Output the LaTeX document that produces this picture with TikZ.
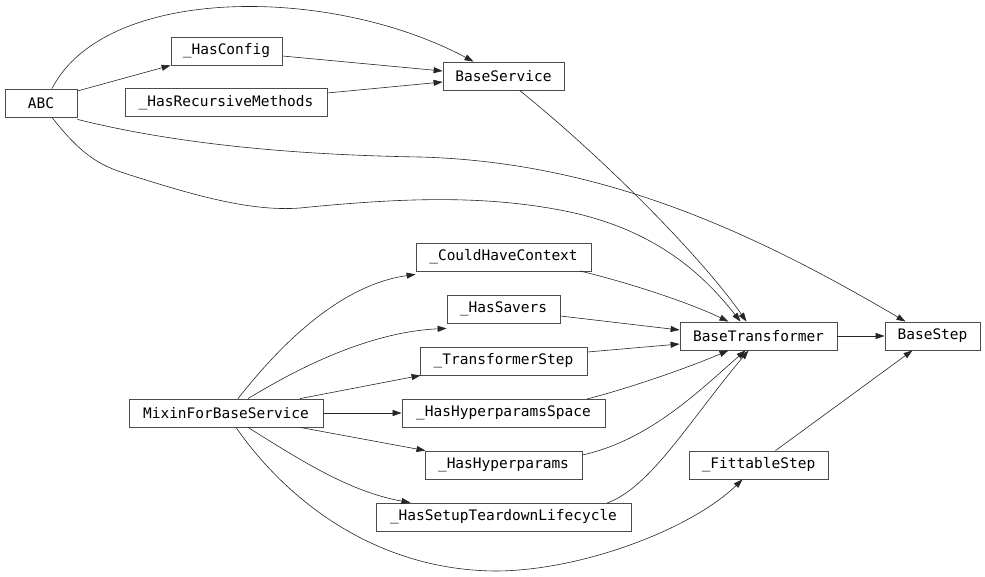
\documentclass[tikz,border=0pt]{standalone}
\usepackage{fontspec}
\setmonofont{DejaVu Sans Mono}
\usetikzlibrary{arrows.meta}
\tikzset{
  cls/.style={draw=black!70, line width=0.8pt, fill=white, rectangle, inner sep=0pt,
    minimum height=28pt, font=\ttfamily\fontsize{14.5}{16}\selectfont},
  edge/.style={draw=black!85, line width=0.6pt, -{Triangle[length=9pt,width=6pt]}}
}
\begin{document}
\begin{tikzpicture}[x=1pt,y=-1pt]
\useasboundingbox (0,0) rectangle (985,577);
\node[cls, minimum width=72pt]  (abc) at (41,103) {ABC};
\node[cls, minimum width=111pt] (hc)  at (226.5,51) {\_HasConfig};
\node[cls, minimum width=202pt] (hrm) at (226,102.5) {\_HasRecursiveMethods};
\node[cls, minimum width=121pt] (bs)  at (503.5,76) {BaseService};
\node[cls, minimum width=175pt] (chc) at (503.5,257) {\_CouldHaveContext};
\node[cls, minimum width=113pt] (hs)  at (503.5,309) {\_HasSavers};
\node[cls, minimum width=167pt] (ts)  at (503.5,361) {\_TransformerStep};
\node[cls, minimum width=194pt] (mix) at (226,413) {MixinForBaseService};
\node[cls, minimum width=203pt] (hhs) at (503.5,413) {\_HasHyperparamsSpace};
\node[cls, minimum width=157pt] (hh)  at (503.5,465) {\_HasHyperparams};
\node[cls, minimum width=255pt] (hst) at (503.5,517) {\_HasSetupTeardownLifecycle};
\node[cls, minimum width=157pt] (bt)  at (758.5,336) {BaseTransformer};
\node[cls, minimum width=139pt] (fs)  at (758.5,465) {\_FittableStep};
\node[cls, minimum width=95pt]  (bst) at (932.5,336) {BaseStep};

% ABC edges
\draw[edge] (abc.east |- 0,91) -- (hc.south west);
\draw[edge] ([xshift=11pt]abc.north) .. controls (105,-15) and (330,-15) .. ([xshift=-30pt]bs.north);
\draw[edge] ([yshift=-2pt]abc.south east) .. controls (180,145) and (300,155) .. (420,157)
  .. controls (600,162) and (750,230) .. ([xshift=-27pt]bst.north);
\draw[edge] ([xshift=11pt]abc.south) .. controls (85,160) and (105,167) .. (130,175)
  .. controls (190,194) and (250,212) .. (300,208)
  .. controls (400,198) and (480,195) .. (560,210)
  .. controls (650,227) and (700,270) .. ([xshift=-18pt]bt.north);
% BaseService parents
\draw[edge] (hc.east |- 0,56) -- (bs.west |- 0,71);
\draw[edge] (hrm.east |- 0,93) -- (bs.west |- 0,82);
% BaseService -> BaseTransformer
\draw[edge] ([xshift=16pt]bs.south) .. controls (600,155) and (700,255) .. ([xshift=-12pt]bt.north);
% into BaseTransformer
\draw[edge] (580,271) .. controls (630,283) and (690,303) .. ([xshift=-30pt]bt.north);
\draw[edge] (hs.east |- 0,316) -- (bt.west |- 0,330);
\draw[edge] (ts.east |- 0,352) -- (bt.west |- 0,344);
\draw[edge] (587,399) .. controls (630,388) and (690,367) .. ([xshift=-30pt]bt.south);
\draw[edge] (hh.east |- 0,455) .. controls (650,440) and (700,390) .. ([xshift=-13pt]bt.south);
\draw[edge] (607,503) .. controls (650,488) and (690,420) .. ([xshift=-10pt]bt.south);
% into BaseStep
\draw[edge] (bt) -- (bst);
\draw[edge] ([xshift=17pt]fs.north) -- ([xshift=-20pt]bst.south);
% Mixin edges
\draw[edge] ([xshift=12pt]mix.north) .. controls (280,345) and (340,285) .. ([yshift=-3pt]chc.south west);
\draw[edge] ([xshift=22pt]mix.north) .. controls (300,367) and (370,332) .. ([yshift=-5pt]hs.south west);
\draw[edge] ([xshift=74pt]mix.north) -- ([xshift=-83pt]ts.south);
\draw[edge] (mix) -- (hhs);
\draw[edge] ([xshift=74pt]mix.south) -- ([xshift=-78pt]hh.north);
\draw[edge] ([xshift=22pt]mix.south) .. controls (300,460) and (350,492) .. ([xshift=-93pt]hst.north);
\draw[edge] ([xshift=10pt]mix.south) .. controls (290,505) and (380,570) .. (495,571)
  .. controls (580,571) and (690,530) .. ([xshift=-16pt]fs.south);
\end{tikzpicture}
\end{document}
